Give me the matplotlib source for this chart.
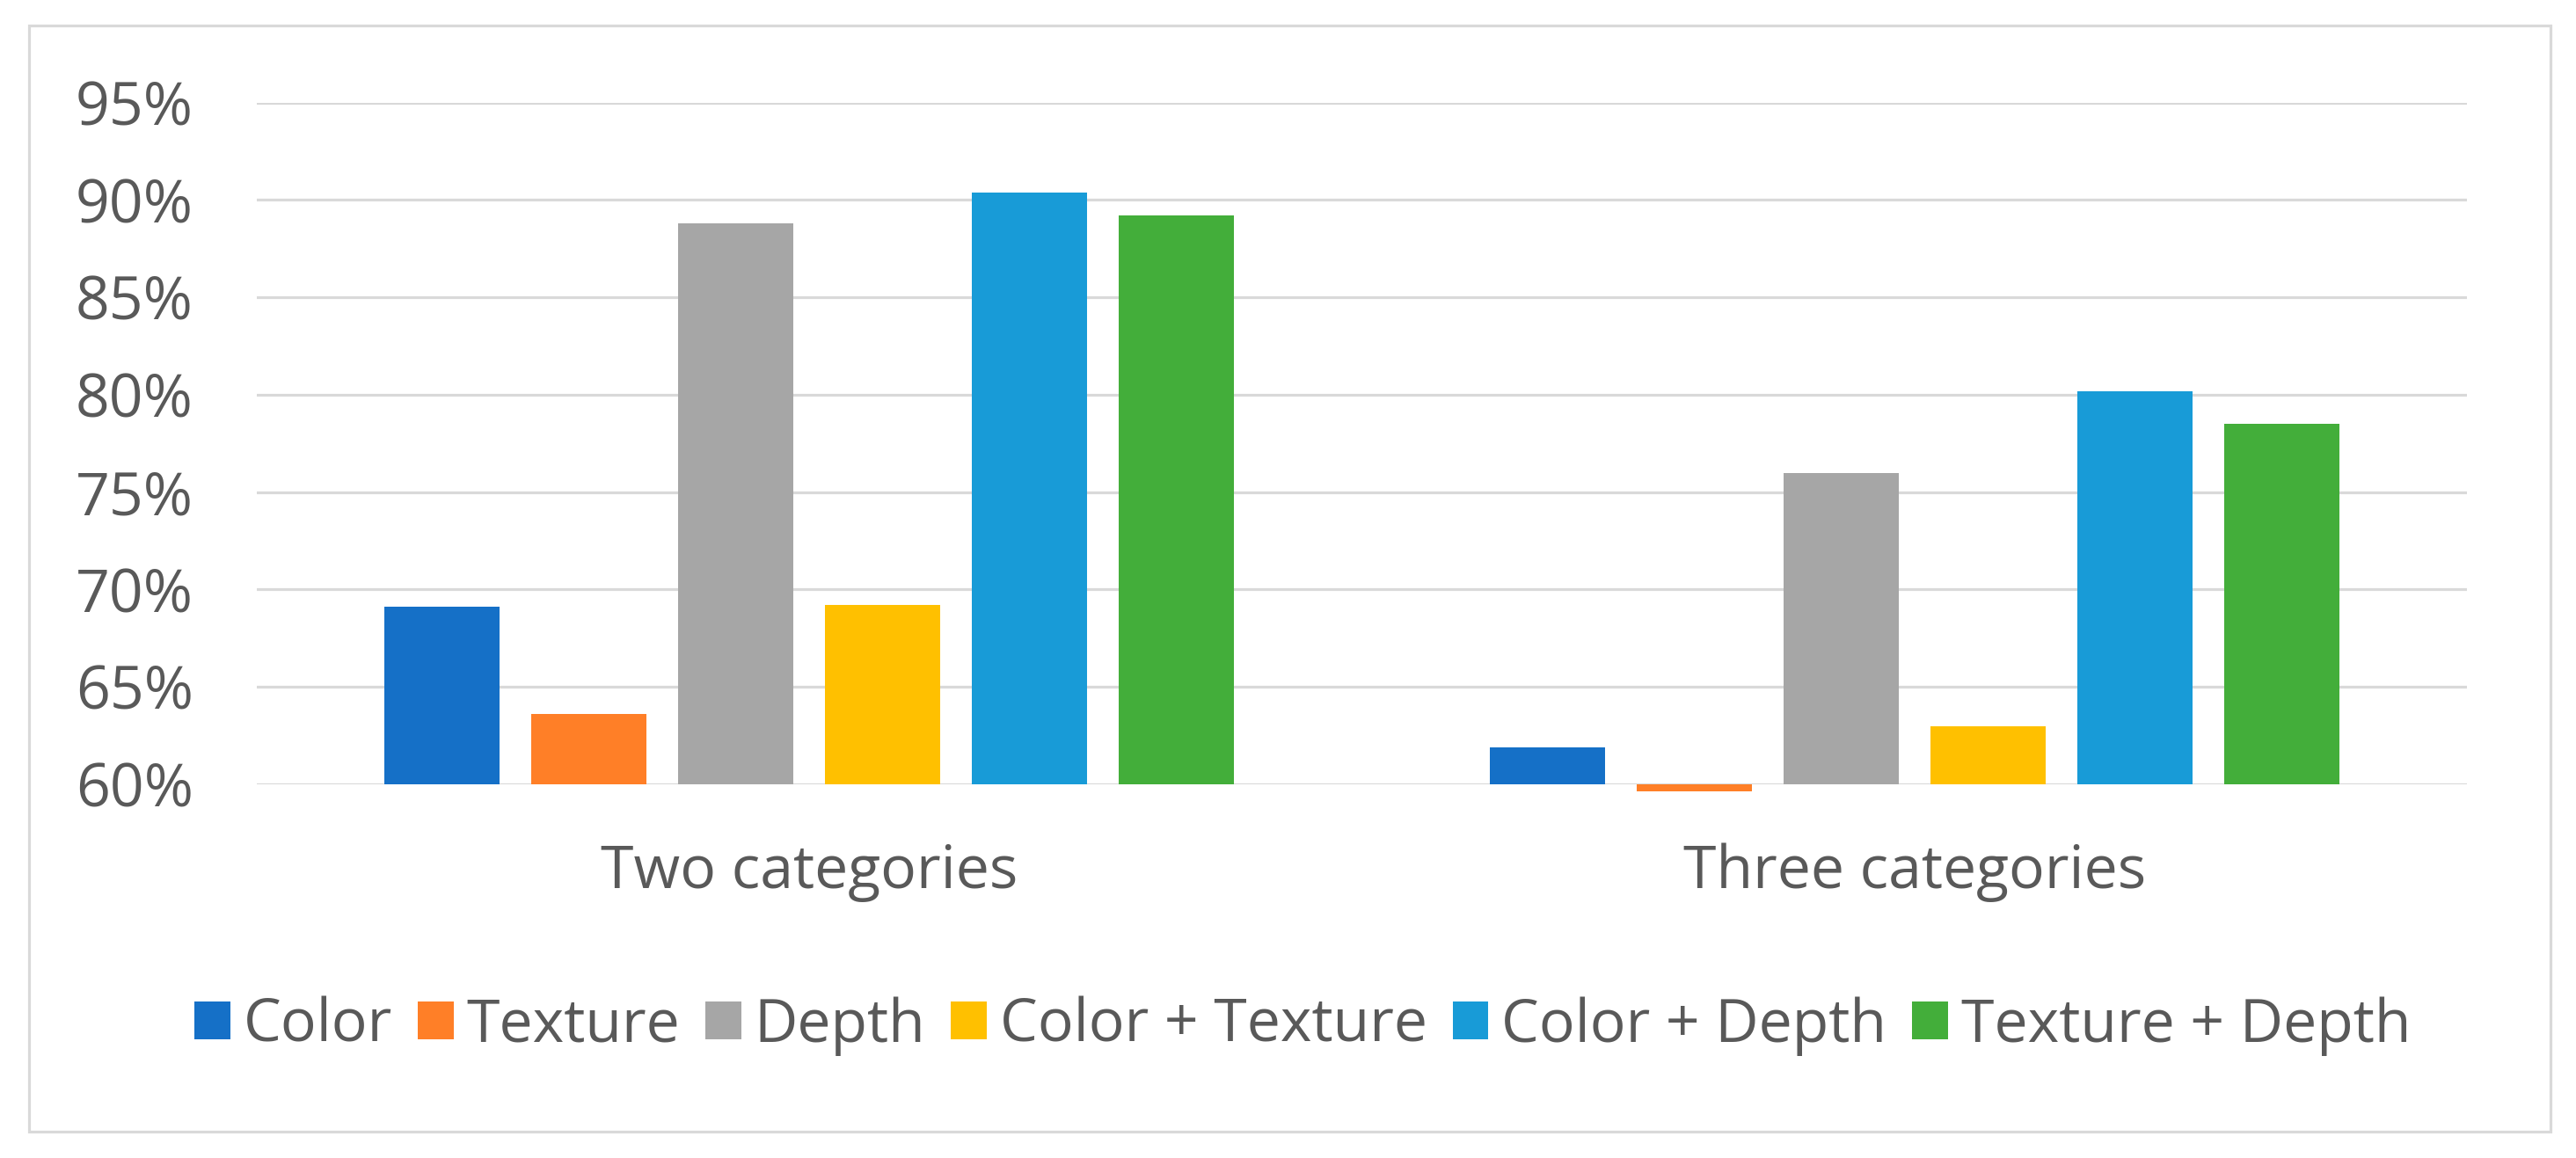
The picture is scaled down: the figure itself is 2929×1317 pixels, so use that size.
import matplotlib
matplotlib.use('Agg')
import matplotlib.pyplot as plt
import numpy as np
from matplotlib.patches import Rectangle

plt.rcParams['font.family'] = ['Open Sans', 'DejaVu Sans']

# data (percent)
groups = ['Two categories', 'Three categories']
series = ['Color', 'Texture', 'Depth', 'Color + Texture', 'Color + Depth', 'Texture + Depth']
color_vals = [69.1, 61.9]
texture_vals = [63.6, 59.65]
depth_vals = [88.8, 76.0]
color_texture_vals = [69.2, 63.0]
color_depth_vals = [90.4, 80.2]
texture_depth_vals = [89.2, 78.5]
colors = ['#1570C7', '#FF7F27', '#A6A6A6', '#FFC000', '#189BD7', '#43AE3A']

all_vals = [color_vals, texture_vals, depth_vals,
            color_texture_vals, color_depth_vals, texture_depth_vals]

text_col = '#595959'
grid_col = '#D9D9D9'
base = 60  # Excel axis minimum, bars grow from here

fig = plt.figure(figsize=(29.29, 13.17), dpi=100)
ax = fig.add_axes([0.0997, 0.3227, 0.858, 0.5887])

x = np.arange(len(groups))
pitch = 0.1329
width = 0.1043
for i, (name, vals) in enumerate(zip(series, all_vals)):
    h = [v - base for v in vals]
    ax.bar(x + (i - 2.5) * pitch, h, width, bottom=base, color=colors[i],
           label=name, clip_on=False, zorder=3)

ax.set_xlim(-0.5, 1.5)
ax.set_ylim(60, 95)
ax.set_yticks(np.arange(60, 96, 5))
ax.set_yticklabels(['{}%'.format(t) for t in range(60, 96, 5)])
ax.set_xticks(x)
ax.set_xticklabels(groups)
ax.yaxis.grid(True, color=grid_col, lw=2.3)
ax.set_axisbelow(True)
for s in ax.spines.values():
    s.set_visible(False)
ax.tick_params(axis='y', length=0, pad=52, labelsize=49, labelcolor=text_col)
ax.tick_params(axis='x', length=0, pad=48, labelsize=49, labelcolor=text_col)

leg = fig.legend(loc='center', bbox_to_anchor=(0.5057, 0.114), ncol=6,
                 frameon=False, fontsize=49, handlelength=0.6, handleheight=0.6,
                 handletextpad=0.22, columnspacing=0.42, borderaxespad=0)
for t in leg.get_texts():
    t.set_color(text_col)

# outer chart border
fig.patches.append(Rectangle((33 / 2929, 1 - 1287 / 1317), (2900 - 33) / 2929,
                             (1287 - 29) / 1317, transform=fig.transFigure,
                             fill=False, edgecolor=grid_col, lw=2.3))

fig.savefig('out.png', dpi=100, facecolor='white')
